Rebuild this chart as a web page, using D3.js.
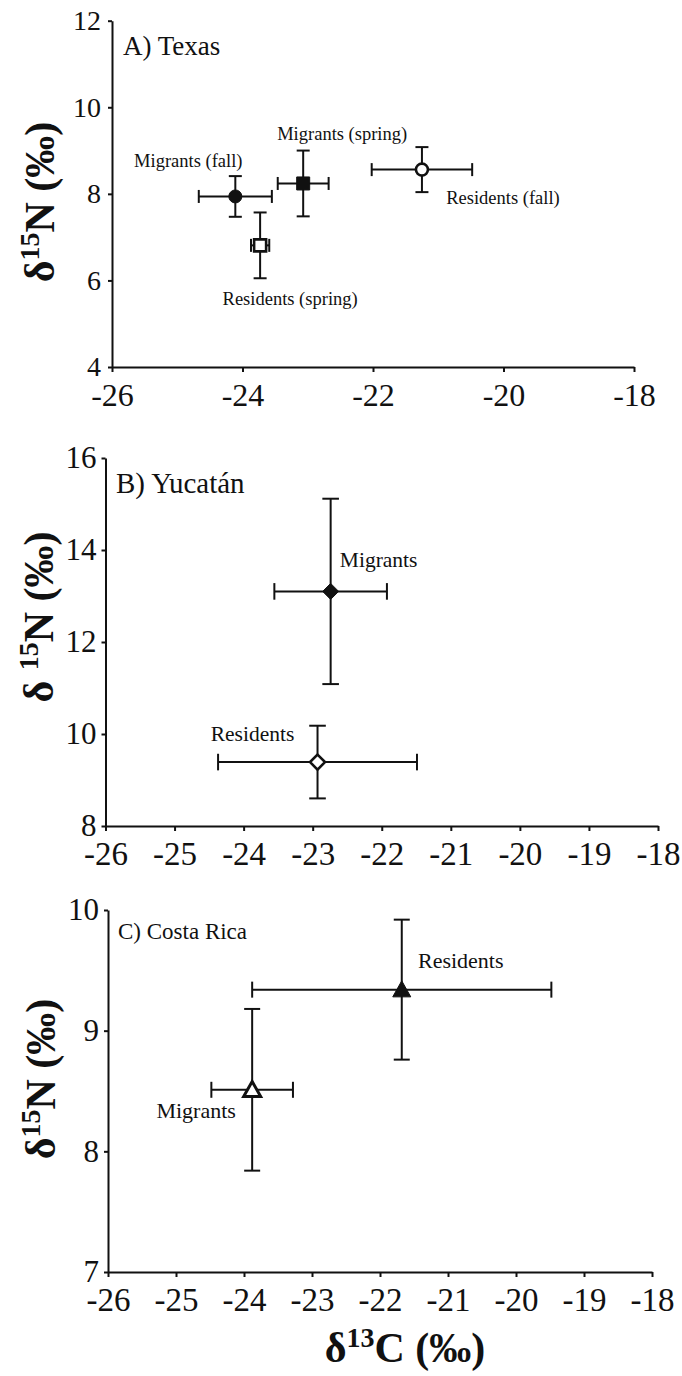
<!DOCTYPE html>
<html>
<head>
<meta charset="utf-8">
<script src="https://cdn.jsdelivr.net/npm/d3@7"></script>
<style>
  body { margin: 0; background: #fff; }
  svg { display: block; font-family: "Liberation Serif", "Times New Roman", serif; }
</style>
</head>
<body>
<svg id="chart" width="682" height="1376"></svg>
<script>
// ---- Panel A: Texas (mean ± SD of δ13C and δ15N) ----
const texasGroups  = ["Migrants (fall)", "Migrants (spring)", "Residents (fall)", "Residents (spring)"];
const texasC       = [-24.11, -23.07, -21.25, -23.73];
const texasCsd     = [0.56, 0.39, 0.77, 0.14];
const texasN       = [7.94, 8.24, 8.56, 6.81];
const texasNsd     = [0.47, 0.76, 0.52, 0.76];
const texasShape   = ["circle", "square", "circle", "square"];
const texasFilled  = [true, true, false, false];

// ---- Panel B: Yucatán ----
const yucatanGroups = ["Migrants", "Residents"];
const yucatanC      = [-22.74, -22.93];
const yucatanCsd    = [0.815, 1.44];
const yucatanN      = [13.10, 9.39];
const yucatanNsd    = [2.015, 0.79];
const yucatanShape  = ["diamond", "diamond"];
const yucatanFilled = [true, false];

// ---- Panel C: Costa Rica ----
const costaGroups = ["Residents", "Migrants"];
const costaC      = [-21.68, -23.88];
const costaCsd    = [2.20, 0.60];
const costaN      = [9.34, 8.51];
const costaNsd    = [0.58, 0.67];
const costaShape  = ["triangle", "triangle"];
const costaFilled = [true, false];

// ---- Tick values ----
const texasXTicks   = [-26, -24, -22, -20, -18];
const texasYTicks   = [4, 6, 8, 10, 12];
const unitXTicks    = [-26, -25, -24, -23, -22, -21, -20, -19, -18];
const yucatanYTicks = [8, 10, 12, 14, 16];
const costaYTicks   = [7, 8, 9, 10];

const svg = d3.select("#chart");
const ink = "#111";
const serif = "'Liberation Serif', 'Times New Roman', serif";

function rows(groups, c, csd, n, nsd, shape, filled) {
  return groups.map((g, i) => ({ group: g, c: c[i], csd: csd[i], n: n[i], nsd: nsd[i], shape: shape[i], filled: filled[i] }));
}

function markerPath(shape, cx, cy, s) {
  const p = d3.path();
  if (shape === "circle") {
    p.arc(cx, cy, s, 0, 2 * Math.PI);
  } else if (shape === "square") {
    p.rect(cx - s, cy - s, 2 * s, 2 * s);
  } else if (shape === "diamond") {
    p.moveTo(cx, cy - s); p.lineTo(cx + s, cy); p.lineTo(cx, cy + s); p.lineTo(cx - s, cy); p.closePath();
  } else if (shape === "triangle") {
    const h = s * 1.78;
    p.moveTo(cx, cy - h * 0.55); p.lineTo(cx + s, cy + h * 0.45); p.lineTo(cx - s, cy + h * 0.45); p.closePath();
  }
  return p.toString();
}

function drawPanel(cfg) {
  const x = d3.scaleLinear().domain([-26, -18]).range(cfg.xRange);
  const y = d3.scaleLinear().domain(cfg.yDomain).range(cfg.yRange);
  const g = svg.append("g");

  // axes
  const xAxis = d3.axisBottom(x).tickValues(cfg.xTicks).tickSize(5).tickSizeOuter(0)
    .tickPadding(11).tickFormat(d => String(d));
  const yAxis = d3.axisLeft(y).tickValues(cfg.yTicks).tickSize(4).tickSizeOuter(0)
    .tickPadding(cfg.yPad).tickFormat(d => String(d));

  const gx = g.append("g").attr("transform", `translate(0,${cfg.yRange[0]})`).call(xAxis);
  const gy = g.append("g").attr("transform", `translate(${cfg.xRange[0]},0)`).call(yAxis);
  [gx, gy].forEach(a => {
    a.attr("font-family", serif);
    a.select(".domain").attr("stroke", ink).attr("stroke-width", 2);
    a.selectAll(".tick line").attr("stroke", ink).attr("stroke-width", 2);
    a.selectAll(".tick text").attr("fill", ink).attr("font-family", serif);
  });
  gx.attr("font-size", cfg.xTickSize).selectAll(".tick text").attr("font-size", cfg.xTickSize);
  gy.attr("font-size", cfg.yTickSize).selectAll(".tick text").attr("font-size", cfg.yTickSize);

  // error bars
  const eb = g.append("g").attr("stroke", ink).attr("stroke-width", 2).attr("fill", "none");
  cfg.data.forEach(d => {
    const cx = x(d.c), cy = y(d.n);
    const y0 = y(d.n - d.nsd), y1 = y(d.n + d.nsd);
    const x0 = x(d.c - d.csd), x1 = x(d.c + d.csd);
    eb.append("line").attr("x1", cx).attr("x2", cx).attr("y1", y0).attr("y2", y1);
    eb.append("line").attr("x1", cx - cfg.cap).attr("x2", cx + cfg.cap).attr("y1", y0).attr("y2", y0);
    eb.append("line").attr("x1", cx - cfg.cap).attr("x2", cx + cfg.cap).attr("y1", y1).attr("y2", y1);
    eb.append("line").attr("x1", x0).attr("x2", x1).attr("y1", cy).attr("y2", cy);
    eb.append("line").attr("x1", x0).attr("x2", x0).attr("y1", cy - cfg.cap).attr("y2", cy + cfg.cap);
    eb.append("line").attr("x1", x1).attr("x2", x1).attr("y1", cy - cfg.cap).attr("y2", cy + cfg.cap);
  });

  // markers
  g.append("g").selectAll("path").data(cfg.data).join("path")
    .attr("d", d => markerPath(d.shape, x(d.c), y(d.n), d.filled ? cfg.size : cfg.openSize))
    .attr("fill", d => d.filled ? ink : "#fff")
    .attr("stroke", ink)
    .attr("stroke-width", d => d.filled ? 1 : cfg.openStroke)
    .attr("stroke-linejoin", "miter");

  // point labels
  g.append("g").selectAll("text").data(cfg.data).join("text")
    .attr("x", (d, i) => x(d.c) + cfg.labelOffsets[i][0])
    .attr("y", (d, i) => y(d.n) + cfg.labelOffsets[i][1])
    .attr("text-anchor", "middle")
    .attr("dy", "0.35em")
    .attr("font-size", cfg.labelSize)
    .attr("fill", ink)
    .text(d => d.group);

  // panel title
  g.append("text")
    .attr("x", cfg.titlePos[0]).attr("y", cfg.titlePos[1])
    .attr("dy", "0.35em")
    .attr("font-size", cfg.titleSize)
    .attr("fill", ink)
    .text(cfg.title);

  // y-axis title δ15N (‰)
  const yt = g.append("text")
    .attr("transform", `translate(${cfg.yTitlePos[0]},${cfg.yTitlePos[1]}) rotate(-90)`)
    .attr("text-anchor", "middle")
    .attr("font-size", 42)
    .attr("font-weight", "bold")
    .attr("fill", ink);
  yt.append("tspan").text(cfg.deltaGap ? "δ " : "δ");
  yt.append("tspan").attr("font-size", 28).attr("dy", "-0.55em").text("15");
  yt.append("tspan").attr("dy", "0.36em").text("N (‰)");

  return { x, y };
}

drawPanel({
  data: rows(texasGroups, texasC, texasCsd, texasN, texasNsd, texasShape, texasFilled),
  xRange: [112, 634], yDomain: [4, 12], yRange: [367, 20.7],
  xTicks: texasXTicks, yTicks: texasYTicks, yPad: 7,
  xTickSize: 32, yTickSize: 28,
  cap: 6.5, size: 6.5, openSize: 6, openStroke: 2.6,
  labelSize: 18.5,
  labelOffsets: [[-47, -36], [39, -50], [81, 28], [30, 53]],
  title: "A) Texas", titlePos: [123, 46], titleSize: 27,
  yTitlePos: [54, 202], deltaGap: false
});

drawPanel({
  data: rows(yucatanGroups, yucatanC, yucatanCsd, yucatanN, yucatanNsd, yucatanShape, yucatanFilled),
  xRange: [105.5, 658], yDomain: [8, 16], yRange: [826, 458],
  xTicks: unitXTicks, yTicks: yucatanYTicks, yPad: 5,
  xTickSize: 33, yTickSize: 31,
  cap: 8.3, size: 8, openSize: 7.5, openStroke: 2.6,
  labelSize: 21.5,
  labelOffsets: [[48, -32], [-65, -29]],
  title: "B) Yucatán", titlePos: [116, 483], titleSize: 29,
  yTitlePos: [53, 617], deltaGap: true
});

drawPanel({
  data: rows(costaGroups, costaC, costaCsd, costaN, costaNsd, costaShape, costaFilled),
  xRange: [108, 652], yDomain: [7, 10], yRange: [1272, 910],
  xTicks: unitXTicks, yTicks: costaYTicks, yPad: 5,
  xTickSize: 33, yTickSize: 31,
  cap: 8, size: 9, openSize: 8.5, openStroke: 3,
  labelSize: 22,
  labelOffsets: [[59, -29], [-56, 21]],
  title: "C) Costa Rica", titlePos: [118, 931], titleSize: 23,
  yTitlePos: [55, 1079], deltaGap: false
});

// x-axis title δ13C (‰)
const xt = svg.append("text")
  .attr("x", 405).attr("y", 1362)
  .attr("text-anchor", "middle")
  .attr("font-size", 42)
  .attr("font-weight", "bold")
  .attr("fill", ink);
xt.append("tspan").text("δ");
xt.append("tspan").attr("font-size", 28).attr("dy", "-0.55em").text("13");
xt.append("tspan").attr("dy", "0.37em").text("C (‰)");
</script>
</body>
</html>
